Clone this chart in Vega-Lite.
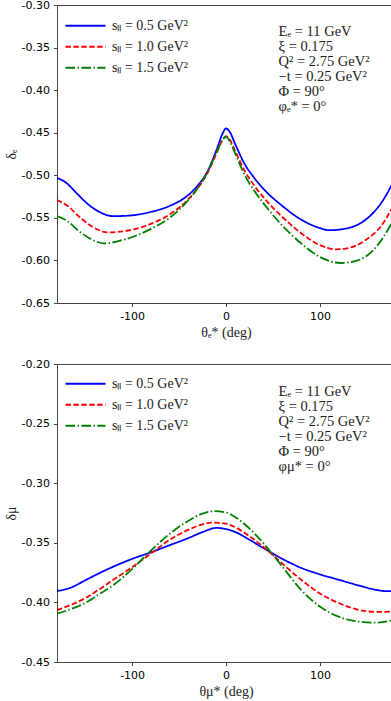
{
  "$schema": "https://vega.github.io/schema/vega-lite/v6.json",
  "padding": {"top": -2, "left": 3, "right": 0, "bottom": 0},
  "spacing": 17,
  "config": {
    "view": {"stroke": "#444", "strokeWidth": 1},
    "axis": {
      "domainColor": "#444", "tickColor": "#444", "grid": false,
      "labelFont": "DejaVu Sans", "labelFontSize": 11, "labelColor": "#000",
      "titleFont": "Liberation Serif", "titleFontSize": 14, "titleFontWeight": "normal", "titleColor": "#222",
      "tickSize": 3.5, "labelPadding": 4
    },
    "axisY": {"titlePadding": 3},
    "axisX": {"titlePadding": 4},
    "legend": {
      "labelFont": "Liberation Serif", "labelFontSize": 14, "labelColor": "#222"
    }
  },
  "datasets": {
    "top": [
      {"s": "sₗₗ = 0.5 GeV²", "x": -180, "y": -0.503},
      {"s": "sₗₗ = 0.5 GeV²", "x": -170, "y": -0.509},
      {"s": "sₗₗ = 0.5 GeV²", "x": -160, "y": -0.520},
      {"s": "sₗₗ = 0.5 GeV²", "x": -150, "y": -0.531},
      {"s": "sₗₗ = 0.5 GeV²", "x": -135, "y": -0.543},
      {"s": "sₗₗ = 0.5 GeV²", "x": -120, "y": -0.548},
      {"s": "sₗₗ = 0.5 GeV²", "x": -100, "y": -0.547},
      {"s": "sₗₗ = 0.5 GeV²", "x": -80, "y": -0.543},
      {"s": "sₗₗ = 0.5 GeV²", "x": -60, "y": -0.536},
      {"s": "sₗₗ = 0.5 GeV²", "x": -40, "y": -0.523},
      {"s": "sₗₗ = 0.5 GeV²", "x": -30, "y": -0.512},
      {"s": "sₗₗ = 0.5 GeV²", "x": -20, "y": -0.496},
      {"s": "sₗₗ = 0.5 GeV²", "x": -10, "y": -0.470},
      {"s": "sₗₗ = 0.5 GeV²", "x": -4, "y": -0.452},
      {"s": "sₗₗ = 0.5 GeV²", "x": 0, "y": -0.445},
      {"s": "sₗₗ = 0.5 GeV²", "x": 4, "y": -0.449},
      {"s": "sₗₗ = 0.5 GeV²", "x": 10, "y": -0.464},
      {"s": "sₗₗ = 0.5 GeV²", "x": 20, "y": -0.487},
      {"s": "sₗₗ = 0.5 GeV²", "x": 30, "y": -0.503},
      {"s": "sₗₗ = 0.5 GeV²", "x": 40, "y": -0.516},
      {"s": "sₗₗ = 0.5 GeV²", "x": 60, "y": -0.536},
      {"s": "sₗₗ = 0.5 GeV²", "x": 80, "y": -0.552},
      {"s": "sₗₗ = 0.5 GeV²", "x": 100, "y": -0.562},
      {"s": "sₗₗ = 0.5 GeV²", "x": 110, "y": -0.5645},
      {"s": "sₗₗ = 0.5 GeV²", "x": 130, "y": -0.562},
      {"s": "sₗₗ = 0.5 GeV²", "x": 150, "y": -0.551},
      {"s": "sₗₗ = 0.5 GeV²", "x": 165, "y": -0.533},
      {"s": "sₗₗ = 0.5 GeV²", "x": 180, "y": -0.504},

      {"s": "sₗₗ = 1.0 GeV²", "x": -180, "y": -0.529},
      {"s": "sₗₗ = 1.0 GeV²", "x": -170, "y": -0.535},
      {"s": "sₗₗ = 1.0 GeV²", "x": -155, "y": -0.550},
      {"s": "sₗₗ = 1.0 GeV²", "x": -140, "y": -0.562},
      {"s": "sₗₗ = 1.0 GeV²", "x": -125, "y": -0.567},
      {"s": "sₗₗ = 1.0 GeV²", "x": -100, "y": -0.564},
      {"s": "sₗₗ = 1.0 GeV²", "x": -80, "y": -0.557},
      {"s": "sₗₗ = 1.0 GeV²", "x": -60, "y": -0.546},
      {"s": "sₗₗ = 1.0 GeV²", "x": -40, "y": -0.528},
      {"s": "sₗₗ = 1.0 GeV²", "x": -30, "y": -0.515},
      {"s": "sₗₗ = 1.0 GeV²", "x": -20, "y": -0.498},
      {"s": "sₗₗ = 1.0 GeV²", "x": -10, "y": -0.474},
      {"s": "sₗₗ = 1.0 GeV²", "x": -4, "y": -0.459},
      {"s": "sₗₗ = 1.0 GeV²", "x": 0, "y": -0.454},
      {"s": "sₗₗ = 1.0 GeV²", "x": 4, "y": -0.458},
      {"s": "sₗₗ = 1.0 GeV²", "x": 10, "y": -0.472},
      {"s": "sₗₗ = 1.0 GeV²", "x": 20, "y": -0.495},
      {"s": "sₗₗ = 1.0 GeV²", "x": 30, "y": -0.512},
      {"s": "sₗₗ = 1.0 GeV²", "x": 40, "y": -0.526},
      {"s": "sₗₗ = 1.0 GeV²", "x": 60, "y": -0.549},
      {"s": "sₗₗ = 1.0 GeV²", "x": 80, "y": -0.568},
      {"s": "sₗₗ = 1.0 GeV²", "x": 100, "y": -0.582},
      {"s": "sₗₗ = 1.0 GeV²", "x": 118, "y": -0.587},
      {"s": "sₗₗ = 1.0 GeV²", "x": 135, "y": -0.584},
      {"s": "sₗₗ = 1.0 GeV²", "x": 150, "y": -0.575},
      {"s": "sₗₗ = 1.0 GeV²", "x": 165, "y": -0.560},
      {"s": "sₗₗ = 1.0 GeV²", "x": 180, "y": -0.532},

      {"s": "sₗₗ = 1.5 GeV²", "x": -180, "y": -0.548},
      {"s": "sₗₗ = 1.5 GeV²", "x": -170, "y": -0.553},
      {"s": "sₗₗ = 1.5 GeV²", "x": -155, "y": -0.567},
      {"s": "sₗₗ = 1.5 GeV²", "x": -140, "y": -0.577},
      {"s": "sₗₗ = 1.5 GeV²", "x": -130, "y": -0.580},
      {"s": "sₗₗ = 1.5 GeV²", "x": -110, "y": -0.576},
      {"s": "sₗₗ = 1.5 GeV²", "x": -80, "y": -0.563},
      {"s": "sₗₗ = 1.5 GeV²", "x": -60, "y": -0.550},
      {"s": "sₗₗ = 1.5 GeV²", "x": -40, "y": -0.529},
      {"s": "sₗₗ = 1.5 GeV²", "x": -30, "y": -0.515},
      {"s": "sₗₗ = 1.5 GeV²", "x": -20, "y": -0.497},
      {"s": "sₗₗ = 1.5 GeV²", "x": -10, "y": -0.473},
      {"s": "sₗₗ = 1.5 GeV²", "x": -4, "y": -0.459},
      {"s": "sₗₗ = 1.5 GeV²", "x": 0, "y": -0.455},
      {"s": "sₗₗ = 1.5 GeV²", "x": 4, "y": -0.460},
      {"s": "sₗₗ = 1.5 GeV²", "x": 10, "y": -0.475},
      {"s": "sₗₗ = 1.5 GeV²", "x": 20, "y": -0.500},
      {"s": "sₗₗ = 1.5 GeV²", "x": 30, "y": -0.518},
      {"s": "sₗₗ = 1.5 GeV²", "x": 40, "y": -0.533},
      {"s": "sₗₗ = 1.5 GeV²", "x": 60, "y": -0.559},
      {"s": "sₗₗ = 1.5 GeV²", "x": 80, "y": -0.580},
      {"s": "sₗₗ = 1.5 GeV²", "x": 100, "y": -0.596},
      {"s": "sₗₗ = 1.5 GeV²", "x": 122, "y": -0.603},
      {"s": "sₗₗ = 1.5 GeV²", "x": 140, "y": -0.600},
      {"s": "sₗₗ = 1.5 GeV²", "x": 155, "y": -0.590},
      {"s": "sₗₗ = 1.5 GeV²", "x": 168, "y": -0.572},
      {"s": "sₗₗ = 1.5 GeV²", "x": 180, "y": -0.549}
    ],
    "bottom": [
      {"s": "sₗₗ = 0.5 GeV²", "x": -180, "y": -0.3905},
      {"s": "sₗₗ = 0.5 GeV²", "x": -165, "y": -0.3875},
      {"s": "sₗₗ = 0.5 GeV²", "x": -150, "y": -0.3815},
      {"s": "sₗₗ = 0.5 GeV²", "x": -135, "y": -0.3755},
      {"s": "sₗₗ = 0.5 GeV²", "x": -120, "y": -0.370},
      {"s": "sₗₗ = 0.5 GeV²", "x": -100, "y": -0.3635},
      {"s": "sₗₗ = 0.5 GeV²", "x": -80, "y": -0.358},
      {"s": "sₗₗ = 0.5 GeV²", "x": -60, "y": -0.352},
      {"s": "sₗₗ = 0.5 GeV²", "x": -40, "y": -0.346},
      {"s": "sₗₗ = 0.5 GeV²", "x": -25, "y": -0.341},
      {"s": "sₗₗ = 0.5 GeV²", "x": -10, "y": -0.3375},
      {"s": "sₗₗ = 0.5 GeV²", "x": 0, "y": -0.3385},
      {"s": "sₗₗ = 0.5 GeV²", "x": 10, "y": -0.341},
      {"s": "sₗₗ = 0.5 GeV²", "x": 25, "y": -0.3475},
      {"s": "sₗₗ = 0.5 GeV²", "x": 40, "y": -0.3545},
      {"s": "sₗₗ = 0.5 GeV²", "x": 60, "y": -0.3635},
      {"s": "sₗₗ = 0.5 GeV²", "x": 80, "y": -0.371},
      {"s": "sₗₗ = 0.5 GeV²", "x": 100, "y": -0.3765},
      {"s": "sₗₗ = 0.5 GeV²", "x": 120, "y": -0.381},
      {"s": "sₗₗ = 0.5 GeV²", "x": 140, "y": -0.3855},
      {"s": "sₗₗ = 0.5 GeV²", "x": 160, "y": -0.3895},
      {"s": "sₗₗ = 0.5 GeV²", "x": 170, "y": -0.3905},
      {"s": "sₗₗ = 0.5 GeV²", "x": 180, "y": -0.3905},

      {"s": "sₗₗ = 1.0 GeV²", "x": -180, "y": -0.4065},
      {"s": "sₗₗ = 1.0 GeV²", "x": -165, "y": -0.402},
      {"s": "sₗₗ = 1.0 GeV²", "x": -150, "y": -0.3965},
      {"s": "sₗₗ = 1.0 GeV²", "x": -135, "y": -0.389},
      {"s": "sₗₗ = 1.0 GeV²", "x": -120, "y": -0.381},
      {"s": "sₗₗ = 1.0 GeV²", "x": -100, "y": -0.3705},
      {"s": "sₗₗ = 1.0 GeV²", "x": -80, "y": -0.359},
      {"s": "sₗₗ = 1.0 GeV²", "x": -60, "y": -0.3475},
      {"s": "sₗₗ = 1.0 GeV²", "x": -40, "y": -0.339},
      {"s": "sₗₗ = 1.0 GeV²", "x": -25, "y": -0.3345},
      {"s": "sₗₗ = 1.0 GeV²", "x": -12, "y": -0.333},
      {"s": "sₗₗ = 1.0 GeV²", "x": 0, "y": -0.334},
      {"s": "sₗₗ = 1.0 GeV²", "x": 10, "y": -0.337},
      {"s": "sₗₗ = 1.0 GeV²", "x": 25, "y": -0.3445},
      {"s": "sₗₗ = 1.0 GeV²", "x": 40, "y": -0.3535},
      {"s": "sₗₗ = 1.0 GeV²", "x": 60, "y": -0.3675},
      {"s": "sₗₗ = 1.0 GeV²", "x": 80, "y": -0.381},
      {"s": "sₗₗ = 1.0 GeV²", "x": 100, "y": -0.3925},
      {"s": "sₗₗ = 1.0 GeV²", "x": 120, "y": -0.4005},
      {"s": "sₗₗ = 1.0 GeV²", "x": 140, "y": -0.406},
      {"s": "sₗₗ = 1.0 GeV²", "x": 160, "y": -0.408},
      {"s": "sₗₗ = 1.0 GeV²", "x": 180, "y": -0.4075},

      {"s": "sₗₗ = 1.5 GeV²", "x": -180, "y": -0.4095},
      {"s": "sₗₗ = 1.5 GeV²", "x": -165, "y": -0.4055},
      {"s": "sₗₗ = 1.5 GeV²", "x": -150, "y": -0.4005},
      {"s": "sₗₗ = 1.5 GeV²", "x": -135, "y": -0.393},
      {"s": "sₗₗ = 1.5 GeV²", "x": -120, "y": -0.3855},
      {"s": "sₗₗ = 1.5 GeV²", "x": -100, "y": -0.372},
      {"s": "sₗₗ = 1.5 GeV²", "x": -80, "y": -0.3565},
      {"s": "sₗₗ = 1.5 GeV²", "x": -60, "y": -0.3425},
      {"s": "sₗₗ = 1.5 GeV²", "x": -40, "y": -0.3315},
      {"s": "sₗₗ = 1.5 GeV²", "x": -25, "y": -0.3255},
      {"s": "sₗₗ = 1.5 GeV²", "x": -13, "y": -0.3235},
      {"s": "sₗₗ = 1.5 GeV²", "x": 0, "y": -0.3245},
      {"s": "sₗₗ = 1.5 GeV²", "x": 10, "y": -0.3285},
      {"s": "sₗₗ = 1.5 GeV²", "x": 25, "y": -0.338},
      {"s": "sₗₗ = 1.5 GeV²", "x": 40, "y": -0.3505},
      {"s": "sₗₗ = 1.5 GeV²", "x": 60, "y": -0.370},
      {"s": "sₗₗ = 1.5 GeV²", "x": 80, "y": -0.3895},
      {"s": "sₗₗ = 1.5 GeV²", "x": 100, "y": -0.4035},
      {"s": "sₗₗ = 1.5 GeV²", "x": 120, "y": -0.412},
      {"s": "sₗₗ = 1.5 GeV²", "x": 140, "y": -0.416},
      {"s": "sₗₗ = 1.5 GeV²", "x": 160, "y": -0.417},
      {"s": "sₗₗ = 1.5 GeV²", "x": 180, "y": -0.4145}
    ],
    "notes": [
      {"panel": "e", "label": "Eₑ = 11 GeV\nξ = 0.175\nQ² = 2.75 GeV²\n−t = 0.25 GeV²\nΦ = 90°\nφₑ* = 0°"},
      {"panel": "mu", "label": "Eₑ = 11 GeV\nξ = 0.175\nQ² = 2.75 GeV²\n−t = 0.25 GeV²\nΦ = 90°\nφμ* = 0°"}
    ]
  },
  "vconcat": [
    {
      "width": 338,
      "height": 298,
      "layer": [
        {
          "data": {"name": "top"},
          "mark": {"type": "line", "interpolate": "monotone", "strokeWidth": 1.8, "clip": true},
          "encoding": {
            "x": {"field": "x", "type": "quantitative", "scale": {"domain": [-180, 180], "nice": false},
                  "axis": {"values": [-100, 0, 100], "title": "θₑ* (deg)", "labelExpr": "replace(datum.label, '−', '-')"}},
            "y": {"field": "y", "type": "quantitative", "scale": {"domain": [-0.65, -0.30], "nice": false, "zero": false},
                  "axis": {"values": [-0.65, -0.6, -0.55, -0.5, -0.45, -0.4, -0.35, -0.3], "format": ".2f", "title": "δₑ", "labelExpr": "replace(datum.label, '−', '-')"}},
            "color": {"field": "s", "type": "nominal",
                      "scale": {"domain": ["sₗₗ = 0.5 GeV²", "sₗₗ = 1.0 GeV²", "sₗₗ = 1.5 GeV²"], "range": ["#0000ff", "#ff0000", "#008000"]},
                      "legend": {"title": null, "orient": "none", "legendX": 7.5, "legendY": 10.5, "symbolType": "stroke", "symbolSize": 1600, "symbolStrokeWidth": 2, "clipHeight": 20.5, "rowPadding": 0, "labelOffset": 5.5}},
            "strokeDash": {"field": "s", "type": "nominal",
                      "scale": {"domain": ["sₗₗ = 0.5 GeV²", "sₗₗ = 1.0 GeV²", "sₗₗ = 1.5 GeV²"], "range": [[1, 0], [5.5, 2.4], [9.6, 2.4, 1.5, 2.4]]},
                      "legend": {"title": null, "orient": "none", "legendX": 7.5, "legendY": 10.5, "symbolType": "stroke", "symbolSize": 1600, "symbolStrokeWidth": 2, "clipHeight": 20.5, "rowPadding": 0, "labelOffset": 5.5}}
          }
        },
        {
          "data": {"name": "notes"},
          "transform": [{"filter": "datum.panel === 'e'"}],
          "mark": {"type": "text", "align": "left", "baseline": "top", "font": "Liberation Serif", "fontSize": 14.5, "lineHeight": 15, "lineBreak": "\n", "color": "#222"},
          "encoding": {
            "text": {"field": "label"},
            "x": {"datum": 56},
            "y": {"datum": -0.324}
          }
        }
      ]
    },
    {
      "width": 338,
      "height": 298,
      "layer": [
        {
          "data": {"name": "bottom"},
          "mark": {"type": "line", "interpolate": "monotone", "strokeWidth": 1.8, "clip": true},
          "encoding": {
            "x": {"field": "x", "type": "quantitative", "scale": {"domain": [-180, 180], "nice": false},
                  "axis": {"values": [-100, 0, 100], "title": "θμ* (deg)", "labelExpr": "replace(datum.label, '−', '-')"}},
            "y": {"field": "y", "type": "quantitative", "scale": {"domain": [-0.45, -0.20], "nice": false, "zero": false},
                  "axis": {"values": [-0.45, -0.4, -0.35, -0.3, -0.25, -0.2], "format": ".2f", "title": "δμ", "labelExpr": "replace(datum.label, '−', '-')"}},
            "color": {"field": "s", "type": "nominal",
                      "scale": {"domain": ["sₗₗ = 0.5 GeV²", "sₗₗ = 1.0 GeV²", "sₗₗ = 1.5 GeV²"], "range": ["#0000ff", "#ff0000", "#008000"]},
                      "legend": {"title": null, "orient": "none", "legendX": 7.5, "legendY": 9.5, "symbolType": "stroke", "symbolSize": 1600, "symbolStrokeWidth": 2, "clipHeight": 20.5, "rowPadding": 0, "labelOffset": 5.5}},
            "strokeDash": {"field": "s", "type": "nominal",
                      "scale": {"domain": ["sₗₗ = 0.5 GeV²", "sₗₗ = 1.0 GeV²", "sₗₗ = 1.5 GeV²"], "range": [[1, 0], [5.5, 2.4], [9.6, 2.4, 1.5, 2.4]]},
                      "legend": {"title": null, "orient": "none", "legendX": 7.5, "legendY": 9.5, "symbolType": "stroke", "symbolSize": 1600, "symbolStrokeWidth": 2, "clipHeight": 20.5, "rowPadding": 0, "labelOffset": 5.5}}
          }
        },
        {
          "data": {"name": "notes"},
          "transform": [{"filter": "datum.panel === 'mu'"}],
          "mark": {"type": "text", "align": "left", "baseline": "top", "font": "Liberation Serif", "fontSize": 14.5, "lineHeight": 15, "lineBreak": "\n", "color": "#222"},
          "encoding": {
            "text": {"field": "label"},
            "x": {"datum": 56},
            "y": {"datum": -0.2172}
          }
        }
      ]
    }
  ],
  "resolve": {"scale": {"color": "independent", "strokeDash": "independent"}}
}
